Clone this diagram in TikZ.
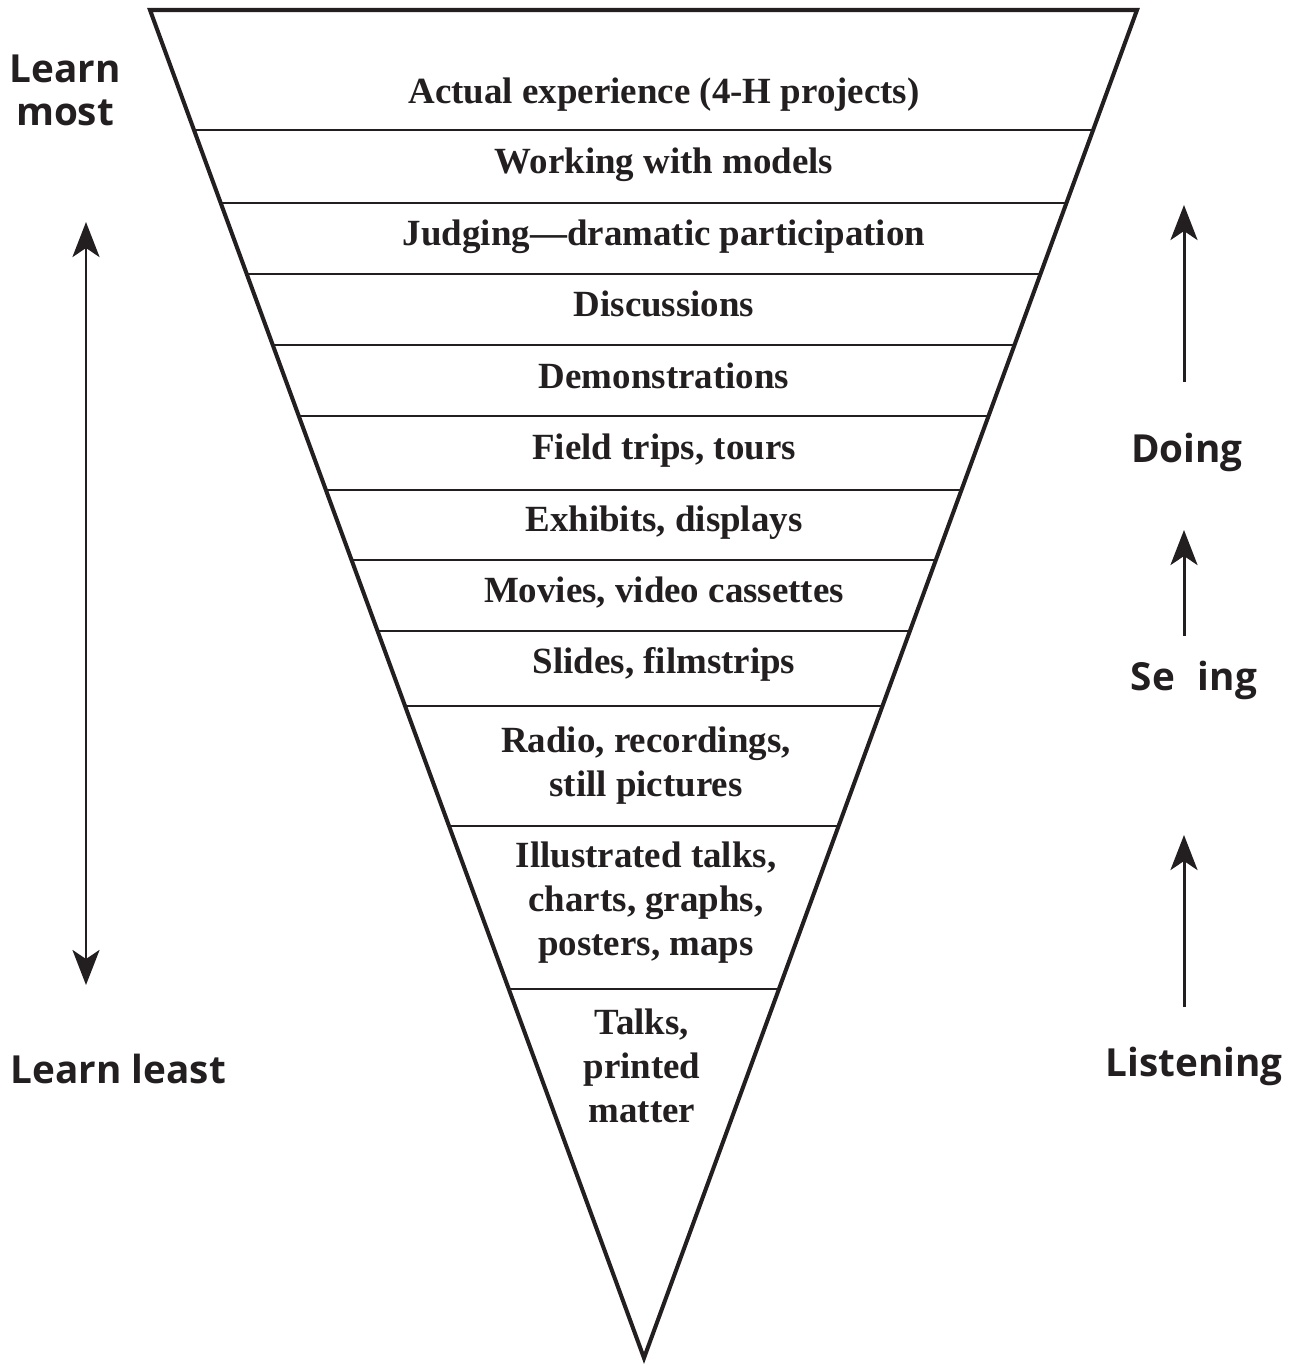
\documentclass[tikz,border=0pt]{standalone}
\usepackage{fontspec}
\setmainfont{Liberation Serif}
\newfontfamily\labelfont{Open Sans}
\usetikzlibrary{arrows.meta}
\definecolor{ink}{HTML}{231F20}
\newcommand{\sidefont}[0]{\labelfont\bfseries\fontsize{11}{12.2}\selectfont}
\newcommand{\bandfont}[0]{\bfseries\fontsize{10.5}{12.5}\selectfont}

\begin{document}
\begin{tikzpicture}[x=0.01cm,y=-0.01cm,draw=ink]
\tikzstyle{band}=[font=\bandfont,align=center,anchor=base,inner sep=0pt,text=ink]
\tikzstyle{side}=[font=\sidefont,inner sep=0pt,text=ink]
\tikzstyle{rise}=[line width=0.85pt,-{Stealth[length=3.5mm,width=2.7mm,inset=0.9mm]}]
\tikzstyle{span}=[line width=0.85pt,{Stealth[length=3.5mm,width=2.7mm,inset=0.9mm]}-{Stealth[length=3.5mm,width=2.7mm,inset=0.9mm]}]

\useasboundingbox (0,0) rectangle (1294,1366);

% the funnel
\coordinate (tl) at (150,10);
\coordinate (tr) at (1137,10);
\coordinate (apex) at (644,1358);
\draw[line width=1.15pt] (tl) -- (tr) -- (apex) -- cycle;
\foreach \y in {130,203,274,345,416,490,560,631,706,826,989}
  \draw[line width=0.5pt] (intersection of tl--apex and 0,\y--100,\y)
    -- (intersection of tr--apex and 0,\y--100,\y);

% bands, most to least (base = last line)
\node[band] (actual) at (664,103) {Actual experience (4-H projects)};
\node[band] (models) at (664,173) {Working with models};
\node[band] (judging) at (664,245) {Judging---dramatic participation};
\node[band] (discuss) at (664,316) {Discussions};
\node[band] (demos) at (664,388) {Demonstrations};
\node[band] (trips) at (664,459) {Field trips, tours};
\node[band] (exhibits) at (664,531) {Exhibits, displays};
\node[band] (movies) at (664,602) {Movies, video cassettes};
\node[band] (slides) at (664,673) {Slides, filmstrips};
\node[band] (radio) at (646,796) {Radio, recordings,\\still pictures};
\node[band] (charts) at (646,955) {Illustrated talks,\\charts, graphs,\\posters, maps};
\node[band] (talks) at (642,1122) {Talks,\\printed\\matter};

% left side
\node[side,anchor=base,align=center] (most) at (65,125) {Learn\\most};
\node[side,anchor=base west] (least) at (10,1083) {Learn least};
\coordinate (mosttip) at (86,222);
\coordinate (leasttip) at (86,985);
\draw[span] (mosttip) -- (leasttip);

% right side
\node[side,anchor=base] (doing) at (1187,462) {Doing};
\node[side,anchor=base] (seeing) at (1194,690) {Se\phantom{e}ing};
\node[side,anchor=base] (listening) at (1194,1076) {Listening};
\coordinate (doing0) at (1184,382);
\coordinate (doing1) at (1184,205);
\coordinate (seeing0) at (1184,636);
\coordinate (seeing1) at (1184,530);
\coordinate (listening0) at (1184,1007);
\coordinate (listening1) at (1184,835);
\draw[rise] (doing0) -- (doing1);
\draw[rise] (seeing0) -- (seeing1);
\draw[rise] (listening0) -- (listening1);
\end{tikzpicture}
\end{document}
